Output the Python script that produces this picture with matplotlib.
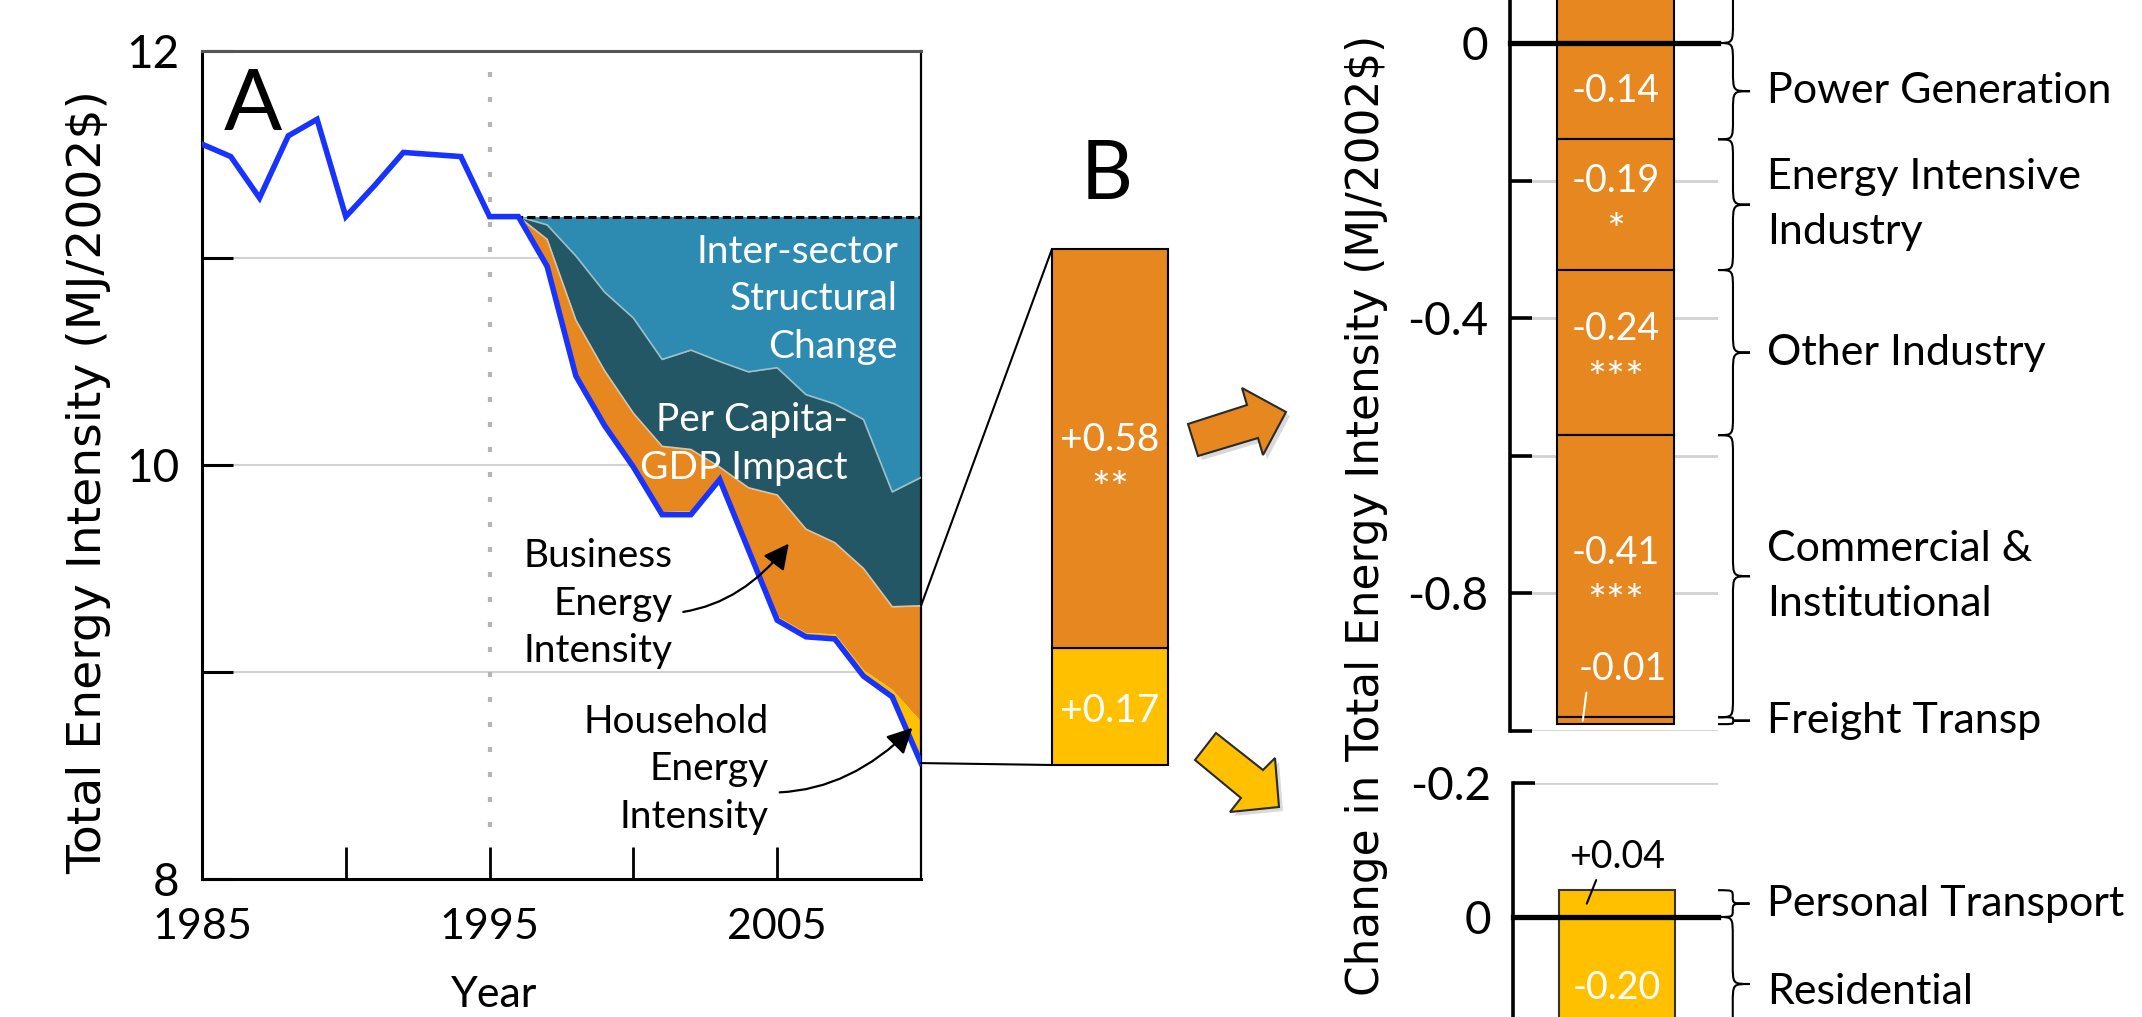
import numpy as np
import matplotlib
matplotlib.use('Agg')
import matplotlib.pyplot as plt
import matplotlib.transforms as mtransforms
from matplotlib.patches import Polygon, PathPatch, ConnectionPatch
from matplotlib.path import Path

plt.rcParams['font.family'] = ['Lato', 'DejaVu Sans']
plt.rcParams['axes.unicode_minus'] = False

W, H, DPI = 2142, 1017, 100

# ---- panel A: total energy intensity (MJ/2002$) ----
years_hist = np.arange(1985, 1996)
total_hist = np.array([11.55, 11.49, 11.29, 11.59, 11.67, 11.20, 11.35, 11.51, 11.50, 11.49, 11.20])

years = np.arange(1995, 2011)
total = np.array([11.20, 11.20, 10.96, 10.43, 10.19, 9.99, 9.76, 9.76, 9.93, 9.59,
                  9.25, 9.17, 9.16, 8.98, 8.88, 8.56])
household_eff = np.array([0, 0, -0.03, -0.02, 0.01, 0.01, 0.015, 0.02, 0.01, 0.01,
                          0.02, 0.02, 0.025, 0.03, 0.035, 0.20])
business_eff = np.array([0, 0, 0.16, 0.29, 0.255, 0.25, 0.315, 0.295, 0.05, 0.29,
                         0.585, 0.50, 0.44, 0.49, 0.40, 0.56])
gdp_eff = np.array([0, 0, 0.07, 0.31, 0.38, 0.46, 0.42, 0.48, 0.51, 0.56,
                    0.615, 0.65, 0.67, 0.72, 0.555, 0.62])
base_1995 = 11.20

# ---- panel B: 2010 gap split ----
b_values = [0.17, 0.58]          # household, business
b_labels = ['+0.17', '+0.58']
b_stars = ['', '**']

# ---- right: business sectors ----
bus_sectors = ['Power Generation', 'Energy Intensive\nIndustry', 'Other Industry',
               'Commercial &\nInstitutional', 'Freight Transp']
bus_change = [-0.14, -0.19, -0.24, -0.41, -0.01]
bus_stars = ['', '*', '***', '***', '']
bus_above = 0.20                 # segment above zero, cut by the figure edge

# ---- right: household sectors ----
hh_sectors = ['Personal Transport', 'Residential']
hh_change = [0.04, -0.20]

LTEAL = '#2D8BB1'
DTEAL = '#245766'
ORANGE = '#E6871F'
YELLOW = '#FFC000'
BLUE = '#1933FF'
GRID = '#d2d2d2'


def frac(x0, y0, x1, y1):
    return [x0 / W, 1 - y1 / H, (x1 - x0) / W, (y1 - y0) / H]


def fpt(x, y):
    return (x / W, 1 - y / H)


fig = plt.figure(figsize=(W / DPI, H / DPI), dpi=DPI)

# ==========================================
# PANEL A
# ==========================================
axA = fig.add_axes(frac(202, 51, 921, 879))
axA.set_xlim(1985, 2010)
axA.set_ylim(8, 12)

hh_top = total + household_eff
bus_top = hh_top + business_eff
gdp_top = bus_top + gdp_eff

for yv in [9, 10, 11]:
    axA.axhline(yv, color=GRID, lw=1.5, zorder=0)
axA.plot([1995, 1995], [8.25, 12], color='#b5b5b5', lw=3, ls=(0, (1.2, 4.8)), zorder=1)

axA.fill_between(years, gdp_top, base_1995, color=LTEAL, lw=0, zorder=2)
axA.fill_between(years, bus_top, gdp_top, color=DTEAL, lw=0, zorder=2)
axA.fill_between(years, hh_top, bus_top, color=ORANGE, lw=0, zorder=2)
axA.fill_between(years, total, hh_top, color=YELLOW, lw=0, zorder=2)
axA.plot(years, gdp_top, color='#9fbfc9', lw=1.2, zorder=3)
axA.plot(years, bus_top, color='#d8c4a8', lw=1.2, zorder=3)
axA.plot([1995, 2010], [base_1995, base_1995], color='k', lw=2.2, ls=(0, (2.7, 1.3)), zorder=3)
axA.plot(np.r_[years_hist, years[1:]], np.r_[total_hist, total[1:]], color=BLUE, lw=4,
         zorder=5, solid_joinstyle='miter')

axA.set_yticks([8, 10, 12])
axA.set_yticklabels(['8', '10', '12'])
axA.set_yticks([9, 11], minor=True)
axA.set_xticks([1985, 1995, 2005])
axA.set_xticklabels(['1985', '1995', '2005'])
axA.set_xticks([1990, 2000], minor=True)
axA.tick_params(axis='y', which='both', direction='in', length=22, width=2.2,
                labelsize=33, pad=16)
axA.tick_params(axis='x', which='both', direction='in', length=23, width=2.0,
                labelsize=31, pad=21)
for s in ['left', 'bottom']:
    axA.spines[s].set_linewidth(2.2)
axA.spines['top'].set_color('#555555')
axA.spines['top'].set_linewidth(2.2)
axA.spines['right'].set_linewidth(1.6)

arrow_kw = dict(arrowstyle='-|>,head_length=0.55,head_width=0.28', color='k',
                lw=1.6, shrinkA=6, shrinkB=0, connectionstyle='arc3,rad=0.35')
axA.text(1985.75, 11.62, 'A', fontsize=62, ha='left', va='baseline')
axA.text(2009.2, 10.80, 'Inter-sector\nStructural\nChange', color='white', fontsize=28,
         ha='right', va='center', multialignment='right', linespacing=1.4, zorder=6)
axA.text(2007.45, 10.10, 'Per Capita-\nGDP Impact', color='white', fontsize=28,
         ha='right', va='center', multialignment='right', linespacing=1.4, zorder=6)
axA.annotate('Business\nEnergy\nIntensity', xy=(2005.4, 9.62), xytext=(2001.35, 9.33),
             fontsize=28, ha='right', va='center', multialignment='right', linespacing=1.4,
             zorder=7, arrowprops=arrow_kw)
axA.annotate('Household\nEnergy\nIntensity', xy=(2009.7, 8.73), xytext=(2004.7, 8.53),
             fontsize=28, ha='right', va='center', multialignment='right', linespacing=1.4,
             zorder=7, arrowprops=arrow_kw)

fig.text(*fpt(494, 976), 'Year', fontsize=31, ha='center', va='top')
fig.text(*fpt(89, 482), r'Total Energy Intensity (MJ/2002\$)', rotation=90, fontsize=34,
         ha='center', va='center', family='DejaVu Sans')

# ==========================================
# PANEL B
# ==========================================
axB = fig.add_axes(frac(1052, 249, 1168, 765))
axB.set_xlim(0, 1)
axB.set_ylim(0, sum(b_values))
axB.axis('off')
bottom = 0
for val, lab, st, col in zip(b_values, b_labels, b_stars, [YELLOW, ORANGE]):
    axB.bar(0.5, val, bottom=bottom, width=1, color=col, edgecolor='k', lw=1.5, clip_on=False)
    mid = bottom + val / 2
    if st:
        axB.annotate(lab, (0.5, mid), xytext=(0, 6), textcoords='offset points',
                     ha='center', va='center', color='white', fontsize=28)
        axB.annotate(st, (0.5, mid), xytext=(0, -30), textcoords='offset points',
                     ha='center', va='center', color='white', fontsize=32)
    else:
        axB.annotate(lab, (0.5, mid), xytext=(0, -3), textcoords='offset points',
                     ha='center', va='center', color='white', fontsize=28)
    bottom += val

fig.text(*fpt(1107, 199), 'B', fontsize=58, ha='center', va='baseline')

for ya, yb in [(bus_top[-1], sum(b_values)), (total[-1], 0)]:
    con = ConnectionPatch(xyA=(2010, ya), coordsA=axA.transData, xyB=(0, yb),
                          coordsB=axB.transData, color='k', lw=1.5)
    fig.add_artist(con)

# block arrows
arrow_orange = [(1198, 456), (1188, 424), (1247, 405), (1242, 388), (1286, 412), (1263, 455), (1258, 438)]
arrow_yellow = [(1195, 760), (1216, 733), (1263, 770), (1275, 758), (1279, 807), (1230, 812), (1241, 798)]
for pts, col in [(arrow_orange, ORANGE), (arrow_yellow, YELLOW)]:
    shadow = Polygon([fpt(x + 4, y + 4) for x, y in pts], closed=True, transform=fig.transFigure,
                     facecolor='#000000', alpha=0.15, lw=0)
    fig.add_artist(shadow)
    poly = Polygon([fpt(x, y) for x, y in pts], closed=True, transform=fig.transFigure,
                   facecolor=col, edgecolor='#2a2a2a', lw=1.5)
    fig.add_artist(poly)


# ==========================================
# RIGHT: sector breakdown
# ==========================================
def brace(ax, y0, y1, xe=1.0, xs=1.072, xt=1.154):
    trans = mtransforms.blended_transform_factory(ax.transAxes, ax.transData)
    ym = (y0 + y1) / 2
    sgn = 1 if y1 > y0 else -1
    d = min(0.03, abs(y1 - y0) / 4) * sgn
    verts = [(xe, y0), (xs, y0), (xs, y0), (xs, y0 + d),
             (xs, ym - d),
             (xs, ym), (xs, ym), (xt, ym),
             (xs, ym), (xs, ym), (xs, ym + d),
             (xs, y1 - d),
             (xs, y1), (xs, y1), (xe, y1)]
    codes = [Path.MOVETO] + [Path.CURVE4] * 3 + [Path.LINETO] + [Path.CURVE4] * 6 + \
            [Path.LINETO] + [Path.CURVE4] * 3
    ax.add_patch(PathPatch(Path(verts, codes), transform=trans, facecolor='none',
                           edgecolor='k', lw=1.5, clip_on=False))
    return trans, ym


def style_right(ax):
    for s in ['top', 'right', 'bottom']:
        ax.spines[s].set_visible(False)
    ax.spines['left'].set_linewidth(2.6)
    ax.tick_params(axis='y', direction='in', length=16, width=2.6, labelsize=33, pad=16)
    ax.set_xticks([])
    ax.set_xlim(0, 1)


BAR_X, BAR_W = 0.507, 0.562
LAB_SIZE = 31

# upper: business (0 at y=43, 688 px per unit)
axR1 = fig.add_axes(frac(1510, 43 - 0.25 * 688, 1718, 43 + 1.0 * 688))
axR1.set_ylim(-1.0, 0.25)
style_right(axR1)
for yv in [-0.2, -0.4, -0.6, -0.8, -1.0]:
    axR1.axhline(yv, color=GRID, lw=2, zorder=0)
axR1.set_yticks([0, -0.2, -0.4, -0.6, -0.8, -1.0])
axR1.set_yticklabels(['0', '', '-0.4', '', '-0.8', ''])

axR1.bar(BAR_X, bus_above, bottom=0, width=BAR_W, color=ORANGE, edgecolor='k', lw=1.5, zorder=2)
brace(axR1, 0, bus_above)
bottom = 0
for name, val, st in zip(bus_sectors, bus_change, bus_stars):
    axR1.bar(BAR_X, val, bottom=bottom, width=BAR_W, color=ORANGE, edgecolor='k', lw=1.5, zorder=2)
    trans, ym = brace(axR1, bottom, bottom + val)
    axR1.text(1.236, ym, name, transform=trans, ha='left', va='center', fontsize=LAB_SIZE,
              linespacing=1.55)
    if abs(val) >= 0.1:
        if st:
            axR1.annotate('%.2f' % val, (BAR_X, ym), xytext=(0, 17), textcoords='offset points',
                          ha='center', va='center', color='white', fontsize=27, zorder=4)
            axR1.annotate(st, (BAR_X, ym), xytext=(0, -20), textcoords='offset points',
                          ha='center', va='center', color='white', fontsize=32, zorder=4)
        else:
            axR1.annotate('%.2f' % val, (BAR_X, ym), xytext=(0, 0), textcoords='offset points',
                          ha='center', va='center', color='white', fontsize=27, zorder=4)
    else:
        axR1.annotate('%.2f' % val, xy=(0.35, bottom + val / 2), xytext=(0.54, bottom + 0.07),
                      ha='center', va='center', color='white', fontsize=27, zorder=4,
                      arrowprops=dict(arrowstyle='-', color='white', lw=1.5,
                                      shrinkA=2, shrinkB=0, relpos=(0.1, 0)))
    bottom += val
axR1.axhline(0, color='k', lw=3.8, xmax=1.0, zorder=5, clip_on=False)

# lower: household (0.2 at y=783, 670 px per unit)
axR2 = fig.add_axes(frac(1513, 783, 1718, 783 + 0.5 * 670))
axR2.set_ylim(-0.3, 0.2)
style_right(axR2)
axR2.axhline(0.2, color=GRID, lw=2, zorder=0)
axR2.set_yticks([0.2, 0])
axR2.set_yticklabels(['-0.2', '0'])
for name, val in zip(hh_sectors, hh_change):
    axR2.bar(BAR_X, val, bottom=0, width=BAR_W, color=YELLOW, edgecolor='#333333', lw=1.5, zorder=2)
    trans, ym = brace(axR2, 0, val)
    axR2.text(1.239, ym - 0.012 * (val < 0), name, transform=trans, ha='left', va='center',
              fontsize=LAB_SIZE)
    if val > 0:
        axR2.annotate('+%.2f' % val, xy=(0.36, val / 2), xytext=(0.51, 0.09),
                      ha='center', va='center', color='k', fontsize=27,
                      arrowprops=dict(arrowstyle='-', color='k', lw=1.5,
                                      shrinkA=2, shrinkB=0, relpos=(0.3, 0)))
    else:
        axR2.annotate('%.2f' % val, (BAR_X, ym), xytext=(0, -3), textcoords='offset points',
                      ha='center', va='center', color='white', fontsize=27, zorder=4)
axR2.axhline(0, color='k', lw=3.8, zorder=5, clip_on=False)

fig.text(*fpt(1367, 515), r'Change in Total Energy Intensity (MJ/2002\$)', rotation=90,
         fontsize=31.5, ha='center', va='center', family='DejaVu Sans')

fig.savefig('out.png', dpi=DPI)
